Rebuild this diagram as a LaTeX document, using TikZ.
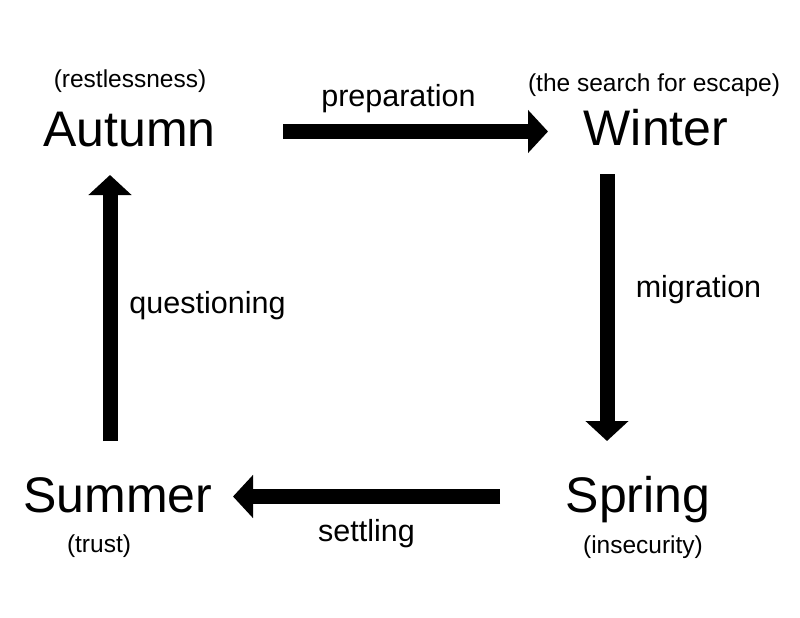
\documentclass[tikz,border=0pt]{standalone}
\usepackage{fontspec}
\setmainfont{Liberation Sans}
\usetikzlibrary{arrows.meta}
\begin{document}
\begin{tikzpicture}[x=1pt,y=-1pt,
  season/.style={anchor=base,inner sep=0pt,font=\fontsize{50}{60}\selectfont},
  mood/.style={anchor=base,inner sep=0pt,font=\fontsize{24.5}{30}\selectfont},
  edgelabel/.style={anchor=base,inner sep=0pt,font=\fontsize{30.5}{36}\selectfont},
  bigarrow/.style={line width=15pt,-{Triangle[width=42pt,length=20pt]}}]
\useasboundingbox (0,0) rectangle (800,618);
% seasons
\node[season] (autumn) at (129.5,146) {Autumn};
\node[season] (winter) at (656,145) {Winter};
\node[season] (summer) at (118,512) {Summer};
\node[season] (spring) at (638,512) {Spring};
% moods
\node[mood] (restless) at (130,87) {(restlessness)};
\node[mood] (search) at (654,92) {(the search for escape)};
\node[mood] (trust) at (99,552) {(trust)};
\node[mood] (insec) at (643,553) {(insecurity)};
% edge labels
\node[edgelabel] (prep) at (398.5,106) {preparation};
\node[edgelabel] (migr) at (698.5,297) {migration};
\node[edgelabel] (settl) at (366.5,541) {settling};
\node[edgelabel] (quest) at (207.5,313) {questioning};
% arrow end points
\coordinate (aw1) at (283,131.5);
\coordinate (aw2) at (548,131.5);
\coordinate (ws1) at (607,174);
\coordinate (ws2) at (607,441);
\coordinate (ss1) at (500,496.5);
\coordinate (ss2) at (233,496.5);
\coordinate (sa1) at (110,441);
\coordinate (sa2) at (110,175);
\draw[bigarrow] (aw1) -- (aw2);
\draw[bigarrow] (ws1) -- (ws2);
\draw[bigarrow] (ss1) -- (ss2);
\draw[bigarrow] (sa1) -- (sa2);
\end{tikzpicture}
\end{document}
